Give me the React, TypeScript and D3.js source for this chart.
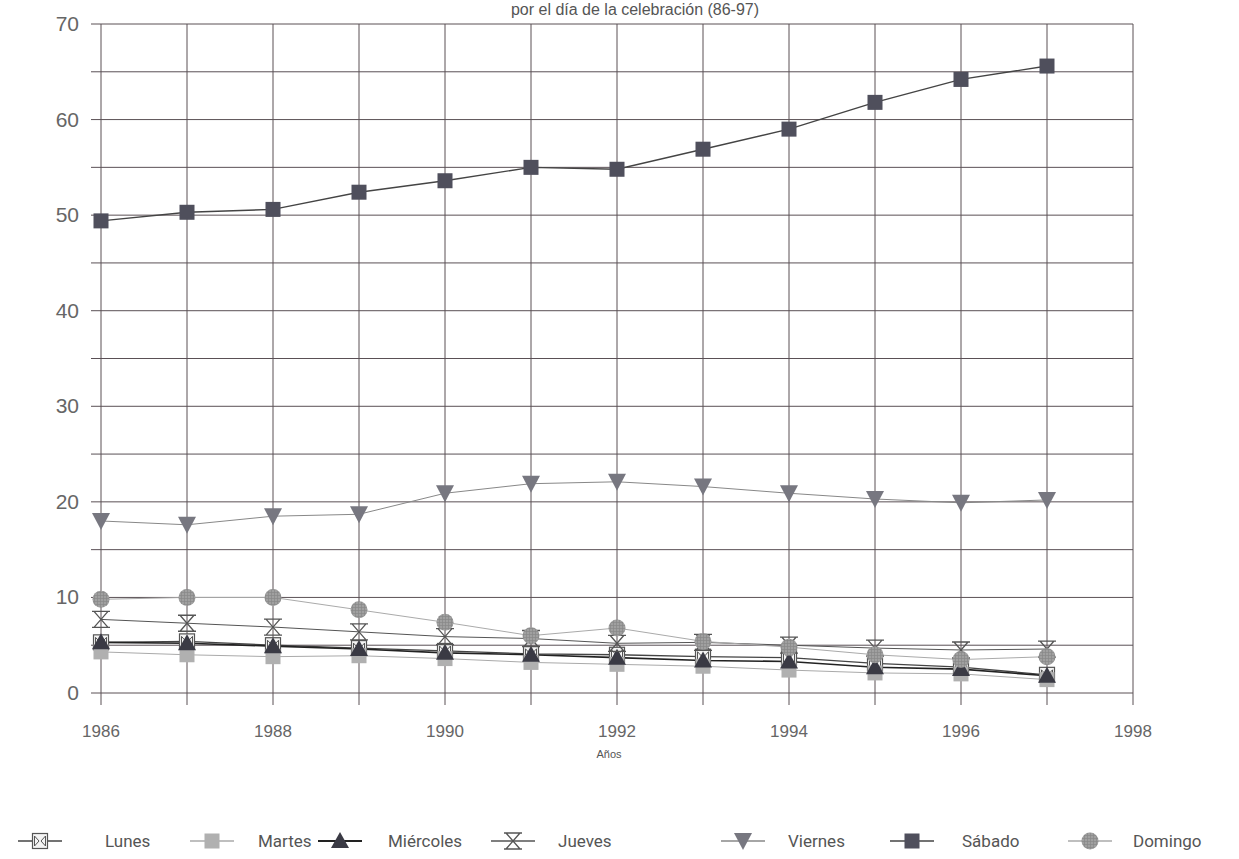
import React from "react";
import * as d3 from "d3";

const years = [1986, 1987, 1988, 1989, 1990, 1991, 1992, 1993, 1994, 1995, 1996, 1997];
const lunes = [5.3, 5.4, 5.0, 4.7, 4.4, 4.1, 4.0, 3.8, 3.7, 3.1, 2.7, 1.9];
const martes = [4.3, 4.0, 3.8, 3.9, 3.6, 3.2, 3.0, 2.8, 2.4, 2.1, 2.0, 1.4];
const miercoles = [5.3, 5.2, 4.9, 4.6, 4.2, 4.0, 3.7, 3.4, 3.3, 2.7, 2.5, 1.8];
const jueves = [7.7, 7.3, 6.9, 6.4, 5.9, 5.7, 5.2, 5.3, 5.0, 4.7, 4.5, 4.6];
const viernes = [18.0, 17.6, 18.5, 18.7, 20.9, 21.9, 22.1, 21.6, 20.9, 20.3, 19.9, 20.2];
const sabado = [49.4, 50.3, 50.6, 52.4, 53.6, 55.0, 54.8, 56.9, 59.0, 61.8, 64.2, 65.6];
const domingo = [9.8, 10.0, 10.0, 8.7, 7.4, 6.0, 6.8, 5.4, 4.8, 4.0, 3.5, 3.8];

const seriesNames = ["Lunes", "Martes", "Miércoles", "Jueves", "Viernes", "Sábado", "Domingo"];
const seriesValues = [lunes, martes, miercoles, jueves, viernes, sabado, domingo];

const xTickLabels = [1986, 1988, 1990, 1992, 1994, 1996, 1998];
const yTickLabels = [0, 10, 20, 30, 40, 50, 60, 70];

const title = "por el día de la celebración (86-97)";
const xTitle = "Años";

const styles: Record<string, { line: string; width: number }> = {
  Lunes: { line: "#444", width: 1.3 },
  Martes: { line: "#aaa", width: 1 },
  "Miércoles": { line: "#222", width: 1.6 },
  Jueves: { line: "#555", width: 1 },
  Viernes: { line: "#888", width: 1 },
  "Sábado": { line: "#444", width: 1.4 },
  Domingo: { line: "#aaa", width: 1 },
};

function Marker({ name, cx, cy }: { name: string; cx: number; cy: number }) {
  const s = 7.5;
  switch (name) {
    case "Lunes":
      return (
        <g>
          <rect x={cx - s} y={cy - s} width={2 * s} height={2 * s} fill="#f4f4f4" stroke="#555" strokeWidth={1.2} />
          <path d={`M${cx - s + 2},${cy - 5} L${cx - 1},${cy} L${cx - s + 2},${cy + 5} Z M${cx + s - 2},${cy - 5} L${cx + 1},${cy} L${cx + s - 2},${cy + 5} Z`} fill="none" stroke="#555" strokeWidth={1} />
        </g>
      );
    case "Martes":
      return <rect x={cx - s} y={cy - s} width={2 * s} height={2 * s} fill="#b0b0b0" />;
    case "Miércoles":
      return <path d={`M${cx},${cy - 9} L${cx + 9},${cy + 7} L${cx - 9},${cy + 7} Z`} fill="#3a3a44" />;
    case "Jueves":
      return (
        <path
          d={`M${cx - 9},${cy - 8} L${cx + 9},${cy - 8} M${cx - 9},${cy + 8} L${cx + 9},${cy + 8} M${cx - 7},${cy - 8} L${cx + 7},${cy + 8} M${cx + 7},${cy - 8} L${cx - 7},${cy + 8}`}
          fill="none"
          stroke="#555"
          strokeWidth={1.3}
        />
      );
    case "Viernes":
      return <path d={`M${cx - 9},${cy - 8} L${cx + 9},${cy - 8} L${cx},${cy + 9} Z`} fill="#777780" />;
    case "Sábado":
      return <rect x={cx - s} y={cy - s} width={2 * s} height={2 * s} fill="#4f4f5c" />;
    case "Domingo":
      return <circle cx={cx} cy={cy} r={8.5} fill="url(#hatch)" />;
    default:
      return null;
  }
}

export default function App() {
  const W = 1239;
  const H = 859;
  const x = d3.scaleLinear().domain([1986, 1998]).range([101, 1133]);
  const y = d3.scaleLinear().domain([0, 70]).range([693, 24]);
  const gridYears = d3.range(1986, 1999);
  const gridY = d3.range(0, 71, 5);
  const line = d3
    .line<number>()
    .x((_, i) => x(years[i]))
    .y((d) => y(d));

  const font = "'Liberation Sans', Arial, sans-serif";
  const legendItems = [
    { m: 40, t: 105 },
    { m: 212, t: 258 },
    { m: 340, t: 388 },
    { m: 513, t: 558 },
    { m: 743, t: 788 },
    { m: 912, t: 962 },
    { m: 1090, t: 1133 },
  ];

  return (
    <svg width={W} height={H} style={{ position: "absolute", left: 0, top: 0, background: "#fff" }}>
      <defs>
        <pattern id="hatch" width="3" height="3" patternUnits="userSpaceOnUse">
          <rect width="3" height="3" fill="#a0a0a0" />
          <path d="M0,1.5 L3,1.5 M1.5,0 L1.5,3" stroke="#888" strokeWidth={0.7} />
        </pattern>
      </defs>
      <text x={635} y={15} textAnchor="middle" fontFamily={font} fontSize={16} fill="#555">
        {title}
      </text>
      {gridY.map((v) => (
        <line key={"h" + v} x1={91} x2={x(1998)} y1={y(v)} y2={y(v)} stroke="#5a5055" strokeWidth={1} />
      ))}
      {gridYears.map((v) => (
        <line key={"v" + v} x1={x(v)} x2={x(v)} y1={y(70)} y2={705} stroke="#5a5055" strokeWidth={1} />
      ))}
      {yTickLabels.map((v) => (
        <text key={"yl" + v} x={79} y={y(v) + 7} textAnchor="end" fontFamily={font} fontSize={21} fill="#666">
          {v}
        </text>
      ))}
      {xTickLabels.map((v) => (
        <text key={"xl" + v} x={x(v)} y={737} textAnchor="middle" fontFamily={font} fontSize={17} fill="#666">
          {v}
        </text>
      ))}
      <text x={609} y={758} textAnchor="middle" fontFamily={font} fontSize={11} fill="#555">
        {xTitle}
      </text>
      {seriesNames.map((n, k) => (
        <path key={"l" + n} d={line(seriesValues[k]) || ""} fill="none" stroke={styles[n].line} strokeWidth={styles[n].width} />
      ))}
      {seriesNames.map((n, k) => (
        <g key={"m" + n}>
          {seriesValues[k].map((v, i) => (
            <Marker key={i} name={n} cx={x(years[i])} cy={y(v)} />
          ))}
        </g>
      ))}
      {seriesNames.map((n, k) => {
        const it = legendItems[k];
        return (
          <g key={"lg" + n}>
            <line x1={it.m - 22} x2={it.m + 22} y1={841} y2={841} stroke={styles[n].line} strokeWidth={styles[n].width + 0.3} />
            <Marker name={n} cx={it.m} cy={841} />
            <text x={it.t} y={847} fontFamily="Roboto, sans-serif" fontSize={17} fill="#555">
              {n}
            </text>
          </g>
        );
      })}
    </svg>
  );
}
